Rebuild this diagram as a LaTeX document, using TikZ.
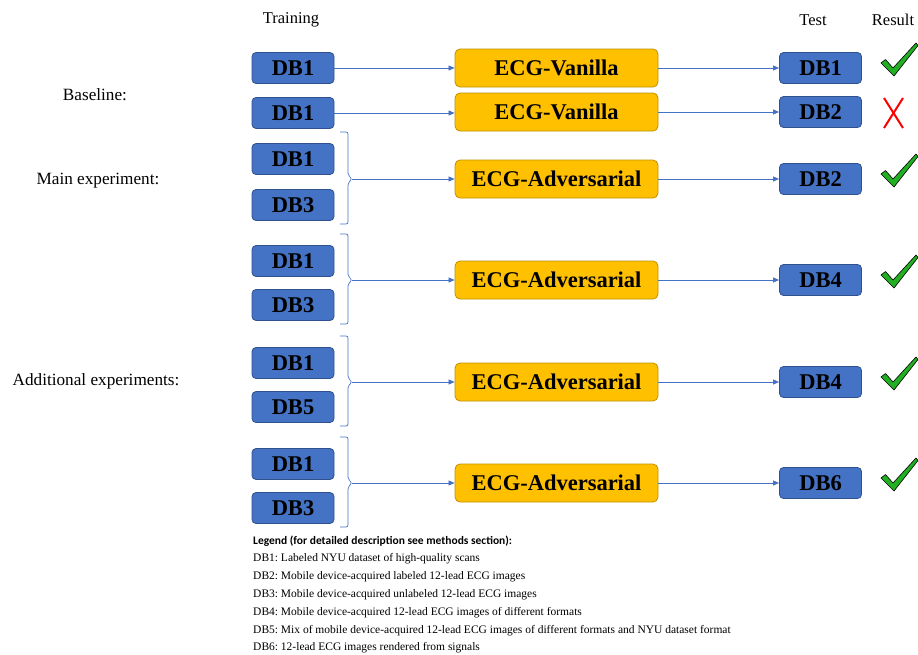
\documentclass[tikz,border=0pt]{standalone}
\usepackage{fontspec}
\setmainfont{Liberation Serif}
\newfontfamily\calibri{Carlito}
\usetikzlibrary{arrows.meta}
\definecolor{dbblue}{HTML}{4472C4}
\definecolor{dbborder}{HTML}{2F528F}
\definecolor{ecgyellow}{HTML}{FFC000}
\definecolor{ecgborder}{HTML}{BF9000}
\definecolor{arrowblue}{HTML}{4472C4}
\definecolor{checkgreen}{HTML}{22B022}
\frenchspacing
\begin{document}
\begin{tikzpicture}[x=1pt,y=-1pt,
  dbbox/.style={draw=dbborder,fill=dbblue,line width=0.8pt,rounded corners=4pt,minimum width=82pt,minimum height=31pt,inner sep=0pt,font=\bfseries\fontsize{22.5}{22}\selectfont},
  ecgbox/.style={draw=ecgborder,fill=ecgyellow,line width=0.8pt,rounded corners=5pt,minimum width=203pt,minimum height=38pt,inner sep=0pt,font=\bfseries\fontsize{22.5}{22}\selectfont},
  conn/.style={draw=arrowblue,line width=0.7pt,-{Triangle[length=6pt,width=5pt]}},
  brace/.style={draw=arrowblue,line width=0.7pt,rounded corners=2pt},
  header/.style={font=\fontsize{16.5}{16}\selectfont},
  sidelabel/.style={font=\fontsize{17.2}{17}\selectfont},
  legendtxt/.style={anchor=west,inner sep=0pt,font=\fontsize{11.5}{12}\selectfont},
  checkmark/.style={fill=checkgreen,draw=black,line width=0.6pt,line join=round},
  crossmark/.style={draw=red,line width=2pt}
]
\useasboundingbox (0,0) rectangle (918,654);

% headers
\node[header] (hTrain) at (291,20) {Training};
\node[header] (hTest) at (813,20) {Test};
\node[header] (hRes) at (893,20) {Result};

% side labels
\node[sidelabel] (lBase) at (95,95) {Baseline:};
\node[sidelabel] (lMain) at (98,181) {Main experiment:};
\node[sidelabel] (lAdd) at (96,381) {Additional experiments:};

% baseline rows
\node[dbbox] (a1) at (293,68) {DB1};
\node[ecgbox] (e1) at (556.5,68) {ECG-Vanilla};
\node[dbbox] (t1) at (820.5,68) {DB1};
\draw[conn] (a1) -- (e1);
\draw[conn] (e1) -- (t1);

\node[dbbox] (a2) at (293,113) {DB1};
\node[ecgbox] (e2) at (556.5,112) {ECG-Vanilla};
\node[dbbox] (t2) at (820.5,112) {DB2};
\draw[conn] (a2.east) -- (a2.east -| e2.west);
\draw[conn] (e2) -- (t2);

% groups
\foreach \up/\lo/\mid/\na/\nb/\nt/\id in {159/205/179/DB1/DB3/DB2/3,261/305/280/DB1/DB3/DB4/4,363/407/382/DB1/DB5/DB4/5,464/508/483/DB1/DB3/DB6/6}{
  \node[dbbox] (u\id) at (293,\up) {\na};
  \node[dbbox] (l\id) at (293,\lo) {\nb};
  \node[ecgbox] (e\id) at (556.5,\mid) {ECG-Adversarial};
  \node[dbbox] (t\id) at (820.5,\mid) {\nt};
  \draw[brace] (340,\up-27) -- (348,\up-27) -- (348,\mid-4) -- (352,\mid) -- (348,\mid+4) -- (348,\lo+19) -- (340,\lo+19);
  \coordinate (b\id) at (352,\mid);
  \draw[conn] (b\id) -- (e\id);
  \draw[conn] (e\id) -- (t\id);
}

% result marks
\foreach \yy in {68,179,280,382,483}{
  \path[checkmark] (881,\yy-5) -- (885.5,\yy-8.5) -- (893,\yy) -- (916,\yy-25) -- (918,\yy-22.5) -- (894,\yy+8) -- cycle;
}
\draw[crossmark] (884,98) -- (903,128);
\draw[crossmark] (903,98) -- (884,128);

% legend
\node[legendtxt,font=\calibri\bfseries\fontsize{11.5}{12}\selectfont] (lg0) at (253,541) {Legend (for detailed description see methods section):};
\node[legendtxt] (lg1) at (253,559) {DB1: Labeled NYU dataset of high-quality scans};
\node[legendtxt] (lg2) at (253,577) {DB2: Mobile device-acquired labeled 12-lead ECG images};
\node[legendtxt] (lg3) at (253,595) {DB3: Mobile device-acquired unlabeled 12-lead ECG images};
\node[legendtxt] (lg4) at (253,613) {DB4: Mobile device-acquired 12-lead ECG images of different formats};
\node[legendtxt] (lg5) at (253,631) {DB5: Mix of mobile device-acquired 12-lead ECG images of different formats and NYU dataset format};
\node[legendtxt] (lg6) at (253,648) {DB6: 12-lead ECG images rendered from signals};
\end{tikzpicture}
\end{document}
